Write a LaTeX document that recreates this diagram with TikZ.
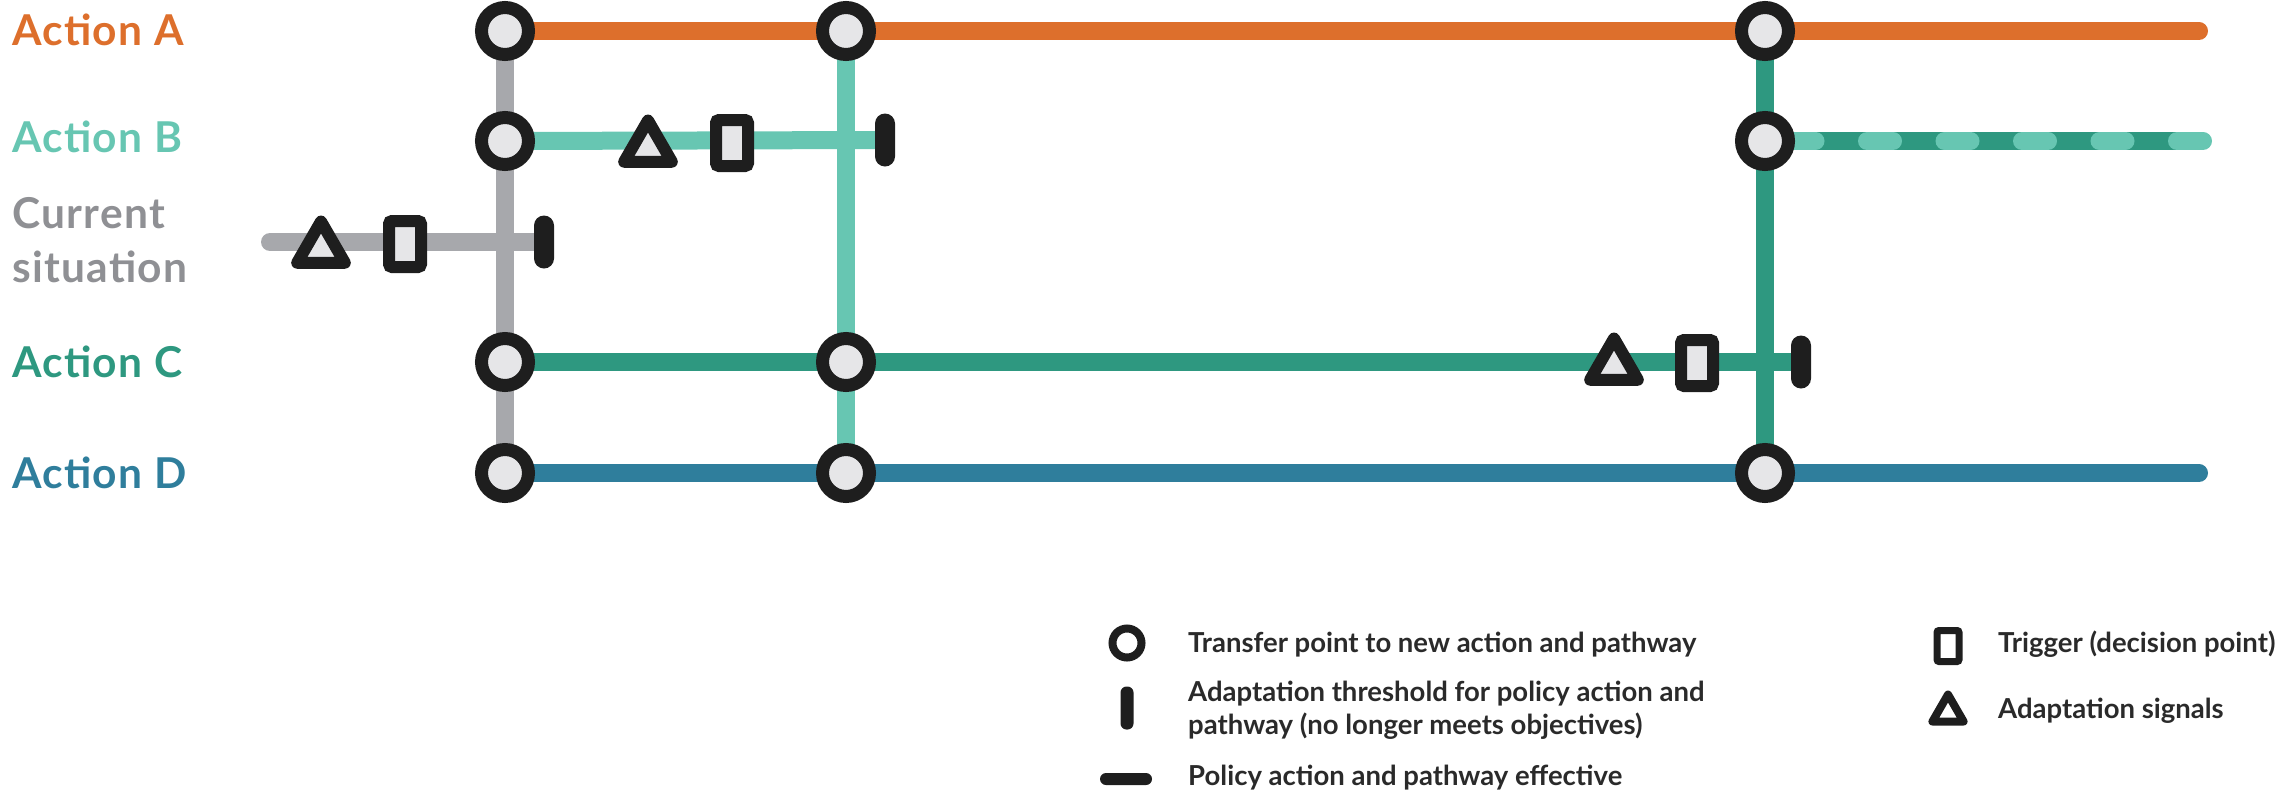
\documentclass[tikz,border=0pt]{standalone}
\usepackage{fontspec}
\setmainfont{Lato}
\usetikzlibrary{shapes.geometric,backgrounds}
\definecolor{orangeA}{HTML}{DD6F2C}
\definecolor{ltealB}{HTML}{67C6B2}
\definecolor{grayCur}{HTML}{A7A8AC}
\definecolor{dtealC}{HTML}{2E9880}
\definecolor{blueD}{HTML}{2F7E9C}
\definecolor{ink}{HTML}{1E1E1E}
\definecolor{nodefill}{HTML}{E6E6E8}
\definecolor{grayLab}{HTML}{8F9094}
\definecolor{legtext}{HTML}{2A2A2A}
\begin{document}
\begin{tikzpicture}[x=1pt,y=-1pt,
  route/.style={line width=18pt},
  xfer/.style={circle,draw=ink,line width=13pt,fill=nodefill,minimum size=47pt,inner sep=0pt},
  trig/.style={rectangle,draw=ink,line width=12pt,fill=nodefill,minimum width=32pt,minimum height=46pt,inner sep=0pt,rounded corners=3pt},
  signal/.style={regular polygon,regular polygon sides=3,draw=ink,line width=12pt,line join=round,fill=nodefill,minimum size=55pt,inner sep=0pt},
  thresh/.style={rectangle,fill=ink,minimum width=20pt,minimum height=53pt,rounded corners=10pt,inner sep=0pt},
  lab/.style={font=\fontsize{42.5}{54}\selectfont\bfseries\addfontfeature{LetterSpace=3},anchor=base west,inner sep=0pt},
  leg/.style={font=\fontsize{27.5}{33}\selectfont\bfseries,text=legtext,anchor=base west,inner sep=0pt,align=left},
]
\useasboundingbox (0,0) rectangle (2280,796);

% labels
\node[lab,text=orangeA] (lA) at (12,45) {Action A};
\node[lab,text=ltealB] (lB) at (12,152) {Action B};
\node[lab,text=grayLab,anchor=west,align=left] (lCur) at (12,240) {Current\\situation};
\node[lab,text=dtealC] (lC) at (12,377) {Action C};
\node[lab,text=blueD] (lD) at (12,488) {Action D};

% transfer points
\node[xfer] (c1A) at (505,31) {};
\node[xfer] (c1B) at (505,141) {};
\node[xfer] (c1C) at (505,362) {};
\node[xfer] (c1D) at (505,473) {};
\node[xfer] (c2A) at (846,31) {};
\node[xfer] (c2C) at (846,362) {};
\node[xfer] (c2D) at (846,473) {};
\node[xfer] (c3A) at (1765,31) {};
\node[xfer] (c3B) at (1765,141) {};
\node[xfer] (c3D) at (1765,473) {};

% signals, triggers, thresholds
\node[signal] (sCur) at (321,249) {};
\node[trig] (rCur) at (405,244) {};
\node[thresh] (tCur) at (544,242) {};
\node[signal] (sB) at (648,148) {};
\node[trig] (rB) at (732,143) {};
\node[thresh] (tB) at (885,140) {};
\node[signal] (sC) at (1614,366) {};
\node[trig] (rC) at (1697,363) {};
\node[thresh] (tC) at (1801,362) {};

% free ends
\coordinate (startCur) at (270,242);
\coordinate (endA) at (2199,31);
\coordinate (endD) at (2199,473);
\coordinate (endB) at (2203,141);
\coordinate (darkEndB) at (2190,141);
\coordinate (dashStartB) at (1789.5,141);

\begin{scope}[on background layer]
  \draw[route,grayCur] (c1A.center) -- (c1D.center);
  \draw[route,ltealB] (c2A.center) -- (c2D.center);
  \draw[route,dtealC] (c3A.center) -- (c3D.center);
  \draw[route,orangeA,line cap=round] (c1A.center) -- (endA);
  \draw[route,blueD,line cap=round] (c1D.center) -- (endD);
  \draw[route,grayCur,line cap=round] (startCur) -- (tCur.center);
  \draw[route,ltealB] (c1B.center) -- (tB.center);
  \draw[route,dtealC] (c1C.center) -- (tC.center);
  \draw[route,dtealC] (c3B.center) -- (darkEndB);
  \draw[route,ltealB,line cap=round,dash pattern=on 26pt off 51.5pt] (dashStartB) -- (endB);
\end{scope}

% legend
\node[circle,draw=ink,line width=8pt,fill=white,minimum size=29pt,inner sep=0pt] (lgX) at (1127,643) {};
\node[rectangle,fill=ink,minimum width=13pt,minimum height=43pt,rounded corners=6pt,inner sep=0pt] (lgT) at (1127,708) {};
\node[rectangle,fill=ink,minimum width=52pt,minimum height=12pt,rounded corners=6pt,inner sep=0pt] (lgE) at (1126,779) {};
\node[rectangle,draw=ink,line width=7pt,fill=white,minimum width=22pt,minimum height=31pt,rounded corners=2pt,inner sep=0pt] (lgR) at (1948,646) {};
\node[regular polygon,regular polygon sides=3,draw=ink,line width=8pt,line join=round,fill=white,minimum size=36pt,inner sep=0pt] (lgS) at (1948,712.5) {};

\node[leg] (txX) at (1188,652) {Transfer point to new action and pathway};
\node[leg,anchor=west] (txT) at (1188,710) {Adaptation threshold for policy action and\\pathway (no longer meets objectives)};
\node[leg] (txE) at (1188,785) {Policy action and pathway effective};
\node[leg] (txR) at (1998,652) {Trigger (decision point)};
\node[leg] (txS) at (1998,718) {Adaptation signals};
\end{tikzpicture}
\end{document}
